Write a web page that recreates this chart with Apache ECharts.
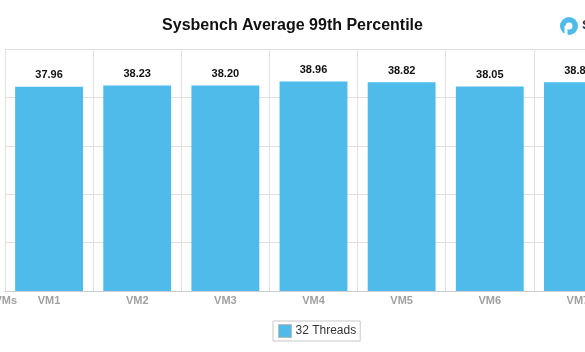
<!DOCTYPE html>
<html>
<head>
<meta charset="utf-8">
<script src="https://cdn.jsdelivr.net/npm/echarts@6/dist/echarts.min.js"></script>
<style>
  html, body {margin: 0; padding: 0; background: #fff;}
  #chart {width: 585px; height: 352px;}
</style>
</head>
<body>
<div id="chart"></div>
<script>
// categories and values
const categories = ['VM1', 'VM2', 'VM3', 'VM4', 'VM5', 'VM6', 'VM7'];
const threads32 = [37.96, 38.23, 38.20, 38.96, 38.82, 38.05, 38.84];
const seriesName = '32 Threads';

const chart = echarts.init(document.getElementById('chart'));

const option = {
  animation: false,
  textStyle: {fontFamily: 'Liberation Sans, Arial, sans-serif'},
  title: {
    text: 'Sysbench Average 99th Percentile',
    left: 'center',
    top: 13,
    textStyle: {fontSize: 16, fontWeight: 'bold', color: '#111'}
  },
  legend: {
    left: 273,
    top: 321,
    padding: [3, 4, 3, 5],
    borderColor: '#c8c8c8',
    borderWidth: 1,
    borderRadius: 0,
    itemWidth: 13,
    itemHeight: 13,
    itemGap: 5,
    icon: 'rect',
    itemStyle: {borderColor: '#bbb', borderWidth: 1},
    textStyle: {fontSize: 12, color: '#333', padding: [0, 0, 0, -1]},
    data: [seriesName]
  },
  // the chart is cropped on the right: plot runs past the canvas edge
  grid: {left: 5, top: 49, width: 617, height: 242, outerBoundsMode: 'none'},
  xAxis: {
    type: 'category',
    data: categories,
    axisLine: {lineStyle: {color: '#ccc'}},
    axisTick: {show: false},
    axisLabel: {fontSize: 11, fontWeight: 'bold', color: '#a0a0a0', margin: 4},
    splitLine: {show: true, lineStyle: {color: '#e0e0e0'}}
  },
  yAxis: {
    type: 'value',
    min: 0,
    max: 45,
    interval: 9,
    axisLabel: {show: false},
    axisLine: {show: false},
    axisTick: {show: false},
    splitLine: {lineStyle: {color: '#e0e0e0'}}
  },
  series: [
    {
      name: seriesName,
      type: 'bar',
      data: threads32,
      barCategoryGap: '23%',
      itemStyle: {color: '#4fbbeb'},
      label: {
        show: true,
        position: 'top',
        distance: 6,
        fontSize: 11,
        fontWeight: 'bold',
        color: '#111',
        formatter: p => p.value.toFixed(2)
      }
    }
  ],
  graphic: [
    {
      type: 'text',
      right: 568,
      top: 295,
      style: {text: 'VMs', fontSize: 11, fontWeight: 'bold', fill: '#a0a0a0',
        fontFamily: 'Liberation Sans, Arial, sans-serif'}
    },
    {
      type: 'circle',
      shape: {cx: 569, cy: 26, r: 9},
      style: {fill: '#4fbbeb'}
    },
    {
      type: 'circle',
      shape: {cx: 569, cy: 26, r: 3.5},
      style: {fill: '#fff'}
    },
    {
      type: 'rect',
      shape: {x: 564.5, y: 26, width: 3, height: 10},
      style: {fill: '#fff'}
    },
    {
      type: 'text',
      left: 582,
      top: 19,
      style: {text: 'S', fontSize: 13, fontWeight: 'bold', fill: '#333',
        fontFamily: 'Liberation Sans, Arial, sans-serif'}
    }
  ]
};

chart.setOption(option);
</script>
</body>
</html>
